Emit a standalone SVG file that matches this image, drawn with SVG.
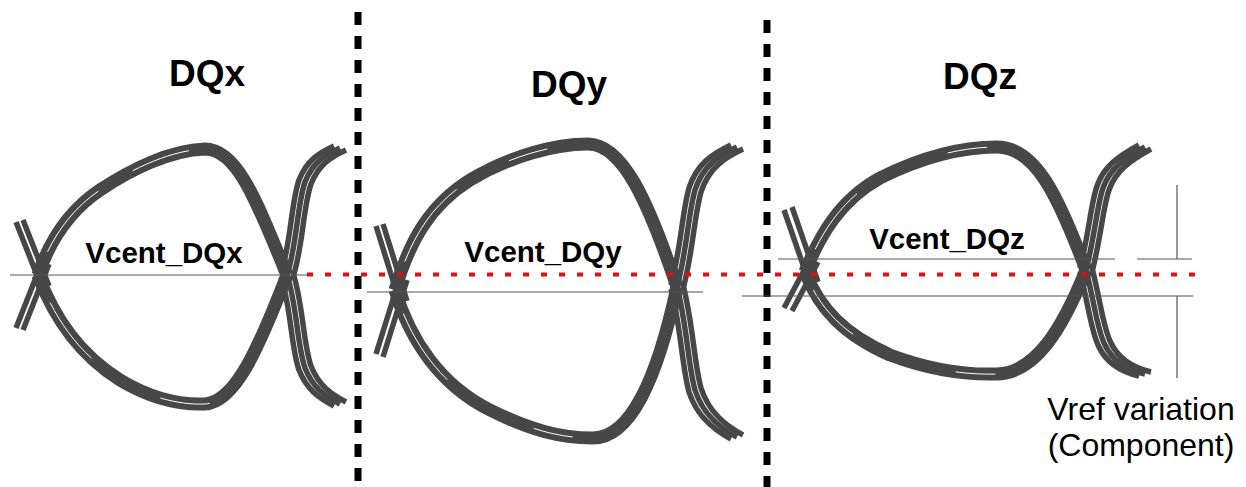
<svg xmlns="http://www.w3.org/2000/svg" width="1246" height="487" viewBox="0 0 1246 487">
<style>
.tr{fill:none;stroke:#474747;stroke-width:13;stroke-linejoin:round}
.th{fill:none;stroke:#474747;stroke-width:5.5}
.hl{fill:none;stroke:#fff;stroke-width:1}
.ref{stroke:#555;stroke-width:1.2;fill:none}
.div{stroke:#000;stroke-width:7;stroke-dasharray:13 11}
.red{stroke:#dd1111;stroke-width:4;stroke-dasharray:6 12}
.title{font-family:"Liberation Sans",Arial,sans-serif;font-weight:bold;font-size:37px;fill:#000;text-anchor:middle}
.vc{font-family:"Liberation Sans",Arial,sans-serif;font-weight:bold;font-size:29.5px;fill:#000;text-anchor:middle}
.note{font-family:"Liberation Sans",Arial,sans-serif;font-size:32px;fill:#000;text-anchor:middle}
</style>
<defs>
<path id="xTU" d="M287,275 C297,245 297,205 305,182 C313,162 325,155 340,148"/>
<path id="xTD" d="M287,275 C297,305 297,345 305,368 C313,388 325,396 340,404"/>
<path id="xSA" d="M16,222 L42,288"/>
<path id="xSB" d="M16,328 L42,262"/>
<path id="yTU" d="M677,287 C687,250 688,215 695,190 C703,165 720,155 737,147"/>
<path id="yTD" d="M677,287 C687,325 688,365 695,390 C703,415 720,428 737,437"/>
<path id="ySA" d="M376,226 L400,303"/>
<path id="ySB" d="M376,354 L400,277"/>
<path id="zTU" d="M1086,270 C1095,235 1097,205 1103,188 C1110,168 1125,158 1145,147"/>
<path id="zTD" d="M1086,270 C1095,305 1097,330 1105,345 C1113,362 1128,370 1145,374"/>
<path id="zSA" d="M784,210 L810,285"/>
<path id="zSB" d="M784,308 L810,259"/>
</defs>

<g id="dividers">
<line class="div" x1="358" y1="12" x2="358" y2="487"/>
<line class="div" x1="767" y1="20" x2="767" y2="487"/>
</g>

<g id="titles">
<text class="title" x="207" y="86">DQx</text>
<text class="title" x="569" y="97">DQy</text>
<text class="title" x="980" y="89">DQz</text>
</g>

<g id="eye-DQx">
<use href="#xSA" class="th"/><use href="#xSA" class="th" transform="translate(7,-2)"/>
<use href="#xSB" class="th"/><use href="#xSB" class="th" transform="translate(7,2)"/>
<path class="tr" d="M38,275 C50,240 70,210 100,190 C130,170 170,150 205,149 C238,149 258,205 287,275"/>
<path class="tr" d="M38,275 C55,320 80,355 120,380 C150,398 180,405 205,404 C235,402 258,350 287,275"/>
<path class="hl" d="M38,275 C50,240 70,210 100,190 C130,170 170,150 205,149 C238,149 258,205 287,275" stroke-dasharray="0 25 80 40 60 1000"/>
<path class="hl" d="M38,275 C55,320 80,355 120,380 C150,398 180,405 205,404 C235,402 258,350 287,275" stroke-dasharray="0 30 70 80 50 1000"/>
<use href="#xTU" class="th" transform="translate(-6,-2)"/><use href="#xTU" class="th"/><use href="#xTU" class="th" transform="translate(6,2)"/>
<use href="#xTD" class="th" transform="translate(-6,2)"/><use href="#xTD" class="th"/><use href="#xTD" class="th" transform="translate(6,-2)"/>
<line class="ref" x1="10" y1="275" x2="310" y2="275"/>
<text class="vc" x="164" y="263">Vcent_DQx</text>
</g>

<g id="eye-DQy">
<use href="#ySA" class="th"/><use href="#ySA" class="th" transform="translate(7,-2)"/>
<use href="#ySB" class="th"/><use href="#ySB" class="th" transform="translate(7,3)"/>
<path class="tr" d="M395,290 C410,240 430,205 470,180 C510,156 555,144 588,144 C622,144 648,200 677,287"/>
<path class="tr" d="M395,290 C410,340 440,385 490,410 C530,430 560,438 593,438 C630,438 657,380 677,287"/>
<path class="hl" d="M395,290 C410,240 430,205 470,180 C510,156 555,144 588,144 C622,144 648,200 677,287" stroke-dasharray="0 30 90 60 40 1000"/>
<path class="hl" d="M395,290 C410,340 440,385 490,410 C530,430 560,438 593,438 C630,438 657,380 677,287" stroke-dasharray="0 25 80 100 40 1000"/>
<use href="#yTU" class="th" transform="translate(-6,-2)"/><use href="#yTU" class="th"/><use href="#yTU" class="th" transform="translate(6,2)"/>
<use href="#yTD" class="th" transform="translate(-6,2)"/><use href="#yTD" class="th"/><use href="#yTD" class="th" transform="translate(6,-2)"/>
<line class="ref" x1="367" y1="292" x2="703" y2="292"/>
<text class="vc" x="543" y="262">Vcent_DQy</text>
</g>

<g id="eye-DQz">
<use href="#zSA" class="th"/><use href="#zSA" class="th" transform="translate(8,-3)"/>
<use href="#zSB" class="th"/><use href="#zSB" class="th" transform="translate(8,3)"/>
<path class="tr" d="M805,272 C820,235 840,200 880,178 C920,158 960,147 997,147 C1035,147 1058,195 1086,270"/>
<path class="tr" d="M805,272 C820,310 845,335 890,355 C930,370 965,375 997,374 C1035,373 1062,330 1086,270"/>
<path class="hl" d="M805,272 C820,235 840,200 880,178 C920,158 960,147 997,147 C1035,147 1058,195 1086,270" stroke-dasharray="0 25 70 100 40 1000"/>
<path class="hl" d="M805,272 C820,310 845,335 890,355 C930,370 965,375 997,374 C1035,373 1062,330 1086,270" stroke-dasharray="0 20 60 110 40 1000"/>
<use href="#zTU" class="th" transform="translate(-6,-2)"/><use href="#zTU" class="th"/><use href="#zTU" class="th" transform="translate(6,2)"/>
<use href="#zTD" class="th" transform="translate(-6,2)"/><use href="#zTD" class="th"/><use href="#zTD" class="th" transform="translate(6,-2)"/>
<line class="ref" x1="778" y1="259" x2="1115" y2="259"/>
<line class="ref" x1="742" y1="296" x2="1193" y2="296"/>
<text class="vc" x="947" y="249">Vcent_DQz</text>
</g>

<g id="vref-variation">
<line class="ref" x1="1137" y1="259" x2="1192" y2="259"/>
<line class="ref" x1="1177" y1="185" x2="1177" y2="259"/>
<line class="ref" x1="1177" y1="296" x2="1177" y2="378"/>
<text class="note" x="1141" y="420">Vref variation</text>
<text class="note" x="1141" y="456">(Component)</text>
</g>

<g id="connectors">
<line class="red" x1="307" y1="274.5" x2="1207" y2="274.5"/>
</g>
</svg>
